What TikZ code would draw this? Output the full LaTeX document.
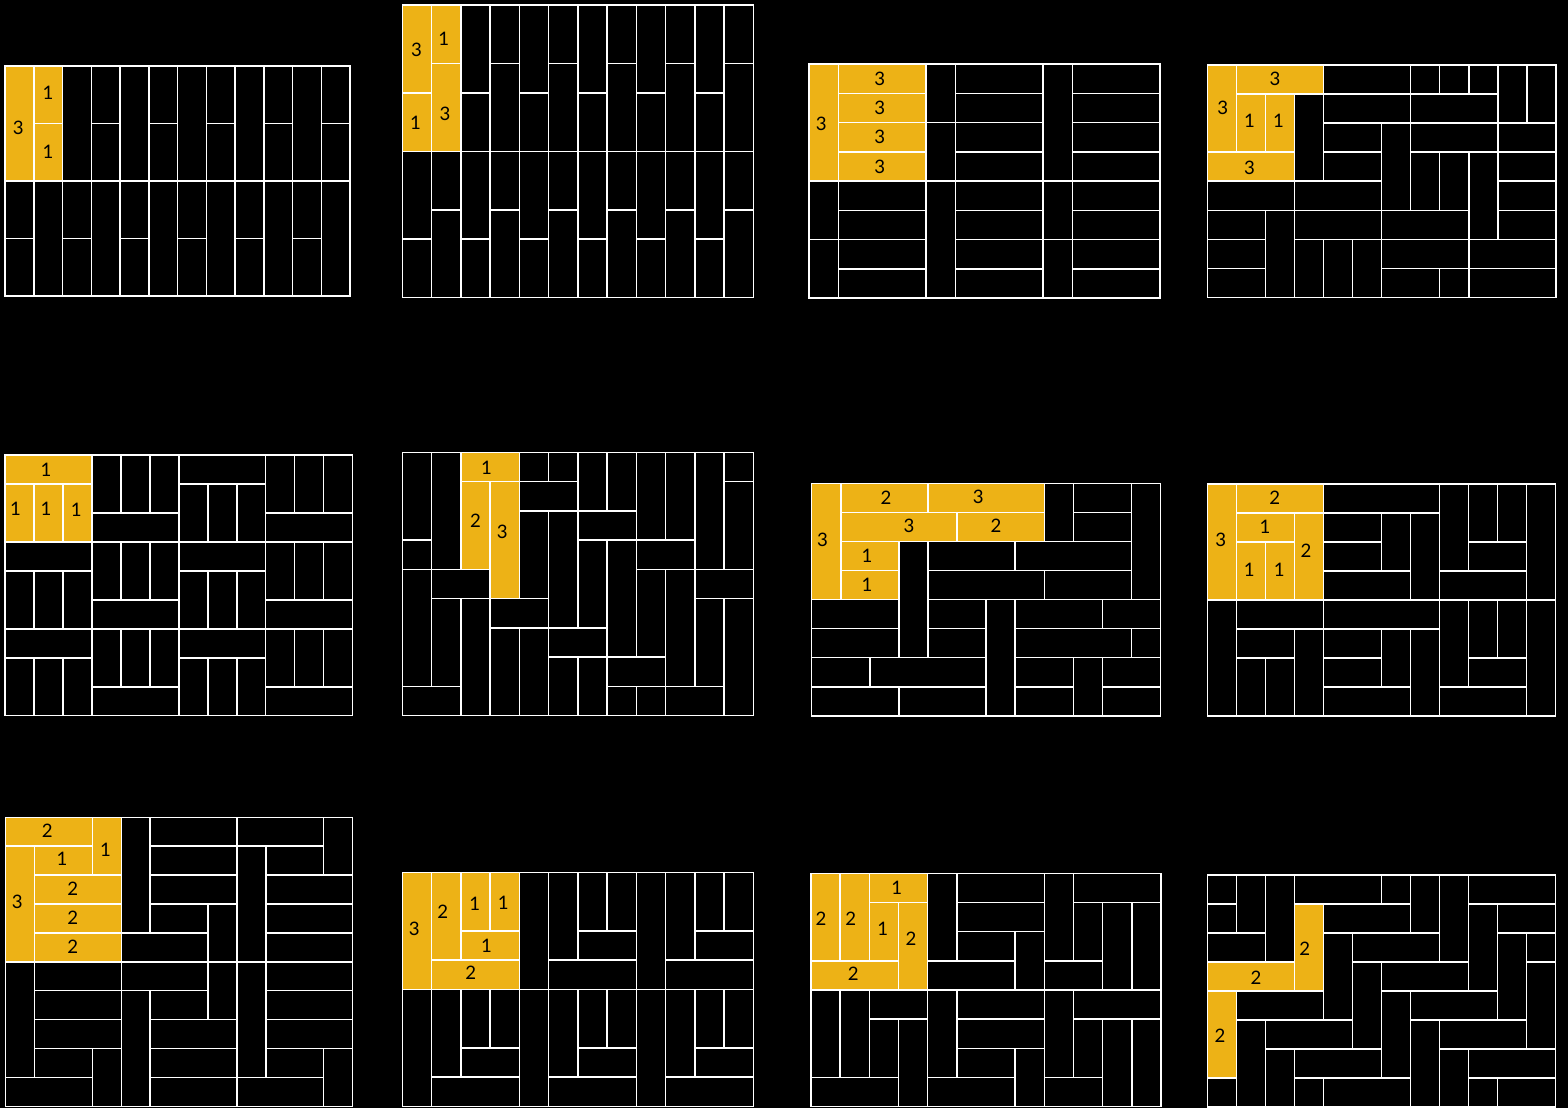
\documentclass[tikz,border=0pt]{standalone}
\usepackage{fontspec}
\newfontfamily\labfontfam{Lato}
\definecolor{tileyel}{RGB}{237,178,22}
\newcommand\labfnt{\labfontfam\fontsize{9.3pt}{10pt}\selectfont}
\tikzset{
  blk/.style={draw=white, line width=0.75pt, fill=black},
  yel/.style={draw=white, line width=0.75pt, fill=tileyel},
  lab/.style={inner sep=0pt, font=\labfnt, text=black},
  panel/.style n args={3}{shift={(#1,#2)}, x=#3pt, y=-#3pt}
}
\newcommand\bk[4]{\draw[blk] (#1,#2) rectangle (#3,#4);}
\newcommand\yw[4]{\draw[yel] (#1,#2) rectangle (#3,#4);}
\newcommand\tlab[4]{\node[lab] (#1) at (#2,#3) {#4};}
\begin{document}
\begin{tikzpicture}[x=0.5pt,y=-0.5pt]
\fill[black] (0,0) rectangle (1568,1108);
\useasboundingbox (0,0) rectangle (1568,1108);

% ---------- Panel 1
\begin{scope}[panel={5}{66}{14.375}]
\foreach \c in {2,4,...,10} {\bk{\c}{0}{\c+1}{4}}
\foreach \c in {3,5,...,11} {\bk{\c}{0}{\c+1}{2}\bk{\c}{2}{\c+1}{4}}
\foreach \c in {0,2,...,10} {\bk{\c}{4}{\c+1}{6}\bk{\c}{6}{\c+1}{8}}
\foreach \c in {1,3,...,11} {\bk{\c}{4}{\c+1}{8}}
\yw{0}{0}{1}{4}\yw{1}{0}{2}{2}\yw{1}{2}{2}{4}
\tlab{p1a}{0.46}{2.15}{3}\tlab{p1b}{1.5}{0.92}{1}\tlab{p1c}{1.5}{3}{1}
\end{scope}

% ---------- Panel 2
\begin{scope}[panel={402.3}{5}{14.625}]
\foreach \c in {2,4,...,10} {\bk{\c}{0}{\c+1}{3}\bk{\c}{3}{\c+1}{5}}
\foreach \c in {3,5,...,11} {\bk{\c}{0}{\c+1}{2}\bk{\c}{2}{\c+1}{5}}
\foreach \c in {0,2,...,10} {\bk{\c}{5}{\c+1}{8}\bk{\c}{8}{\c+1}{10}}
\foreach \c in {1,3,...,11} {\bk{\c}{5}{\c+1}{7}\bk{\c}{7}{\c+1}{10}}
\yw{0}{0}{1}{3}\yw{0}{3}{1}{5}\yw{1}{0}{2}{2}\yw{1}{2}{2}{5}
\tlab{p2a}{0.49}{1.52}{3}\tlab{p2b}{1.42}{1.15}{1}\tlab{p2c}{0.45}{4.02}{1}\tlab{p2d}{1.46}{3.73}{3}
\end{scope}

% ---------- Panel 3
\begin{scope}[panel={809}{64}{14.625}]
\bk{0}{4}{1}{6}\bk{0}{6}{1}{8}
\foreach \r in {4,...,7} {\bk{1}{\r}{4}{\r+1}}
\bk{4}{0}{5}{2}\bk{4}{2}{5}{4}\bk{4}{4}{5}{8}
\foreach \r in {0,...,7} {\bk{5}{\r}{8}{\r+1}\bk{9}{\r}{12}{\r+1}}
\bk{8}{0}{9}{4}\bk{8}{4}{9}{6}\bk{8}{6}{9}{8}
\yw{0}{0}{1}{4}
\foreach \r in {0,...,3} {\yw{1}{\r}{4}{\r+1}}
\tlab{p3a}{0.42}{2.03}{3}
\foreach \r in {0,...,3} {\tlab{p3l\r}{2.42}{\r+0.5}{3}}
\end{scope}

% ---------- Panel 4
\begin{scope}[panel={1207.3}{65}{14.525}]
\bk{3}{1}{4}{4}\bk{4}{0}{7}{1}\bk{7}{0}{8}{1}\bk{8}{0}{9}{1}\bk{9}{0}{10}{1}\bk{10}{0}{11}{2}\bk{11}{0}{12}{2}
\bk{4}{1}{7}{2}\bk{7}{1}{10}{2}
\bk{4}{2}{6}{3}\bk{6}{2}{7}{5}\bk{7}{2}{10}{3}\bk{10}{2}{12}{3}
\bk{4}{3}{6}{4}\bk{7}{3}{8}{5}\bk{8}{3}{9}{5}\bk{9}{3}{10}{6}\bk{10}{3}{12}{4}
\bk{0}{4}{3}{5}\bk{3}{4}{6}{5}\bk{10}{4}{12}{5}
\bk{0}{5}{2}{6}\bk{2}{5}{3}{8}\bk{3}{5}{6}{6}\bk{6}{5}{9}{6}\bk{10}{5}{12}{6}
\bk{0}{6}{2}{7}\bk{3}{6}{4}{8}\bk{4}{6}{5}{8}\bk{5}{6}{6}{8}\bk{6}{6}{9}{7}\bk{9}{6}{12}{7}
\bk{0}{7}{2}{8}\bk{6}{7}{8}{8}\bk{8}{7}{9}{8}\bk{9}{7}{12}{8}
\yw{0}{0}{1}{3}\yw{1}{0}{4}{1}\yw{1}{1}{2}{3}\yw{2}{1}{3}{3}\yw{0}{3}{3}{4}
\tlab{p4a}{0.53}{1.49}{3}\tlab{p4b}{2.33}{0.47}{3}\tlab{p4c}{1.45}{1.93}{1}\tlab{p4d}{2.45}{1.93}{1}\tlab{p4e}{1.45}{3.55}{3}
\end{scope}

% ---------- Panel 5
\begin{scope}[panel={5}{455}{14.485}]
\foreach \by in {0,3,6} {
  \foreach \bx in {0,6} {\bk{\bx}{\by}{\bx+3}{\by+1}\foreach \i in {0,1,2} {\bk{\bx+\i}{\by+1}{\bx+\i+1}{\by+3}}}
  \foreach \bx in {3,9} {\bk{\bx}{\by+2}{\bx+3}{\by+3}\foreach \i in {0,1,2} {\bk{\bx+\i}{\by}{\bx+\i+1}{\by+2}}}
}
\yw{0}{0}{3}{1}\yw{0}{1}{1}{3}\yw{1}{1}{2}{3}\yw{2}{1}{3}{3}
\tlab{p5a}{1.42}{0.52}{1}\tlab{p5b}{0.36}{1.87}{1}\tlab{p5c}{1.42}{1.87}{1}\tlab{p5d}{2.46}{1.9}{1}
\end{scope}

% ---------- Panel 6
\begin{scope}[panel={402.3}{452.3}{14.625}]
\bk{0}{0}{1}{3}\bk{0}{3}{1}{4}\bk{0}{4}{1}{8}\bk{0}{8}{2}{9}
\bk{1}{0}{2}{4}\bk{1}{4}{3}{5}\bk{1}{5}{2}{8}\bk{2}{5}{3}{9}
\bk{4}{0}{5}{1}\bk{5}{0}{6}{1}\bk{4}{1}{6}{2}\bk{4}{2}{5}{5}\bk{5}{2}{6}{6}
\bk{3}{5}{5}{6}\bk{3}{6}{4}{9}\bk{4}{6}{5}{9}
\bk{6}{0}{7}{2}\bk{7}{0}{8}{2}\bk{6}{2}{8}{3}\bk{6}{3}{7}{6}\bk{7}{3}{8}{7}
\bk{5}{6}{7}{7}\bk{5}{7}{6}{9}\bk{6}{7}{7}{9}
\bk{8}{0}{9}{3}\bk{9}{0}{10}{3}\bk{8}{3}{10}{4}\bk{8}{4}{9}{7}\bk{9}{4}{10}{8}
\bk{7}{7}{9}{8}\bk{7}{8}{8}{9}\bk{8}{8}{9}{9}
\bk{10}{0}{11}{4}\bk{11}{0}{12}{1}\bk{11}{1}{12}{4}\bk{10}{4}{12}{5}\bk{10}{5}{11}{8}\bk{11}{5}{12}{9}\bk{9}{8}{11}{9}
\yw{2}{0}{4}{1}\yw{2}{1}{3}{4}\yw{3}{1}{4}{5}
\tlab{p6a}{2.88}{0.52}{1}\tlab{p6b}{2.5}{2.35}{2}\tlab{p6c}{3.42}{2.73}{3}
\end{scope}

% ---------- Panel 7
\begin{scope}[panel={811.7}{483.3}{14.535}]
\bk{3}{2}{4}{6}\bk{8}{0}{9}{2}\bk{9}{0}{11}{1}\bk{9}{1}{11}{2}\bk{11}{0}{12}{4}
\bk{4}{2}{7}{3}\bk{7}{2}{11}{3}\bk{4}{3}{8}{4}\bk{8}{3}{11}{4}
\bk{0}{4}{3}{5}\bk{0}{5}{3}{6}\bk{4}{4}{6}{5}\bk{4}{5}{6}{6}\bk{6}{4}{7}{8}
\bk{7}{4}{10}{5}\bk{10}{4}{12}{5}\bk{7}{5}{11}{6}\bk{11}{5}{12}{6}
\bk{0}{6}{2}{7}\bk{2}{6}{6}{7}\bk{0}{7}{3}{8}\bk{3}{7}{6}{8}
\bk{7}{6}{9}{7}\bk{7}{7}{9}{8}\bk{9}{6}{10}{8}\bk{10}{6}{12}{7}\bk{10}{7}{12}{8}
\yw{0}{0}{1}{4}\yw{1}{0}{4}{1}\yw{4}{0}{8}{1}\yw{1}{1}{5}{2}\yw{5}{1}{8}{2}\yw{1}{2}{3}{3}\yw{1}{3}{3}{4}
\tlab{p7a}{0.37}{1.95}{3}\tlab{p7b}{2.56}{0.49}{2}\tlab{p7c}{5.73}{0.47}{3}\tlab{p7d}{3.35}{1.46}{3}\tlab{p7e}{6.34}{1.46}{2}\tlab{p7f}{1.9}{2.5}{1}\tlab{p7g}{1.9}{3.48}{1}
\end{scope}

% ---------- Panel 8
\begin{scope}[panel={1207.3}{484}{14.5}]
\bk{0}{4}{1}{8}\bk{1}{4}{4}{5}\bk{1}{5}{3}{6}\bk{1}{6}{2}{8}\bk{2}{6}{3}{8}\bk{3}{5}{4}{8}
\foreach \dy in {0,4} {\bk{4}{\dy}{8}{\dy+1}\bk{4}{\dy+1}{6}{\dy+2}\bk{4}{\dy+2}{6}{\dy+3}\bk{6}{\dy+1}{7}{\dy+3}\bk{4}{\dy+3}{7}{\dy+4}\bk{7}{\dy+1}{8}{\dy+4}\bk{8}{\dy}{9}{\dy+3}\bk{9}{\dy}{10}{\dy+2}\bk{10}{\dy}{11}{\dy+2}\bk{9}{\dy+2}{11}{\dy+3}\bk{8}{\dy+3}{11}{\dy+4}\bk{11}{\dy}{12}{\dy+4}}
\yw{0}{0}{1}{4}\yw{1}{0}{4}{1}\yw{1}{1}{3}{2}\yw{1}{2}{2}{4}\yw{2}{2}{3}{4}\yw{3}{1}{4}{4}
\tlab{p8a}{0.46}{1.93}{3}\tlab{p8b}{2.33}{0.49}{2}\tlab{p8c}{1.99}{1.47}{1}\tlab{p8d}{1.45}{2.97}{1}\tlab{p8e}{2.48}{2.95}{1}\tlab{p8f}{3.4}{2.31}{2}
\end{scope}

% ---------- Panel 9
\begin{scope}[panel={5.7}{817.3}{14.45}]
\bk{4}{0}{5}{4}\bk{5}{0}{8}{1}\bk{5}{1}{8}{2}\bk{5}{2}{8}{3}\bk{5}{3}{7}{4}\bk{7}{3}{8}{5}
\bk{4}{4}{7}{5}\bk{4}{5}{7}{6}\bk{7}{5}{8}{7}\bk{5}{6}{7}{7}\bk{4}{6}{5}{10}
\bk{5}{7}{8}{8}\bk{5}{8}{8}{9}\bk{5}{9}{8}{10}
\bk{8}{0}{11}{1}\bk{11}{0}{12}{2}\bk{8}{1}{9}{5}\bk{9}{1}{11}{2}
\foreach \r in {2,...,7} {\bk{9}{\r}{12}{\r+1}}
\bk{8}{5}{9}{9}\bk{9}{8}{11}{9}\bk{11}{8}{12}{10}\bk{8}{9}{11}{10}
\bk{0}{5}{1}{9}\bk{1}{5}{4}{6}\bk{1}{6}{4}{7}\bk{1}{7}{4}{8}\bk{1}{8}{3}{9}\bk{3}{8}{4}{10}\bk{0}{9}{3}{10}
\yw{0}{0}{3}{1}\yw{3}{0}{4}{2}\yw{0}{1}{1}{5}\yw{1}{1}{3}{2}\yw{1}{2}{4}{3}\yw{1}{3}{4}{4}\yw{1}{4}{4}{5}
\tlab{p9a}{1.44}{0.46}{2}\tlab{p9b}{3.45}{1.13}{1}\tlab{p9c}{1.95}{1.45}{1}\tlab{p9d}{0.4}{2.91}{3}
\tlab{p9e}{2.32}{2.48}{2}\tlab{p9f}{2.32}{3.49}{2}\tlab{p9g}{2.32}{4.49}{2}
\end{scope}

% ---------- Panel 10
\begin{scope}[panel={402.3}{872.3}{14.625}]
\foreach \by in {0,4} {\foreach \bx in {0,4,8} {%
  \bk{\bx}{\by}{\bx+1}{\by+4}\bk{\bx+1}{\by}{\bx+2}{\by+3}\bk{\bx+2}{\by}{\bx+3}{\by+2}%
  \bk{\bx+3}{\by}{\bx+4}{\by+2}\bk{\bx+2}{\by+2}{\bx+4}{\by+3}\bk{\bx+1}{\by+3}{\bx+4}{\by+4}}}
\yw{0}{0}{1}{4}\yw{1}{0}{2}{3}\yw{2}{0}{3}{2}\yw{3}{0}{4}{2}\yw{2}{2}{4}{3}\yw{1}{3}{4}{4}
\tlab{p10a}{0.41}{1.93}{3}\tlab{p10b}{1.38}{1.34}{2}\tlab{p10c}{2.48}{1.09}{1}\tlab{p10d}{3.45}{1.06}{1}\tlab{p10e}{2.88}{2.5}{1}\tlab{p10f}{2.34}{3.45}{2}
\end{scope}

% ---------- Panel 11
\begin{scope}[panel={811}{873.3}{14.585}]
\foreach \by in {0,4} {%
  \bk{0}{\by}{1}{\by+3}\bk{1}{\by}{2}{\by+3}\bk{2}{\by}{4}{\by+1}\bk{2}{\by+1}{3}{\by+3}\bk{3}{\by+1}{4}{\by+4}\bk{0}{\by+3}{3}{\by+4}%
  \bk{4}{\by}{5}{\by+3}\bk{5}{\by}{8}{\by+1}\bk{5}{\by+1}{8}{\by+2}\bk{5}{\by+2}{7}{\by+3}\bk{7}{\by+2}{8}{\by+4}\bk{4}{\by+3}{7}{\by+4}%
  \bk{8}{\by}{9}{\by+3}\bk{9}{\by}{12}{\by+1}\bk{9}{\by+1}{10}{\by+3}\bk{10}{\by+1}{11}{\by+4}\bk{11}{\by+1}{12}{\by+4}\bk{8}{\by+3}{10}{\by+4}}
\yw{0}{0}{1}{3}\yw{1}{0}{2}{3}\yw{2}{0}{4}{1}\yw{2}{1}{3}{3}\yw{3}{1}{4}{4}\yw{0}{3}{3}{4}
\tlab{p11a}{0.34}{1.57}{2}\tlab{p11b}{1.36}{1.57}{2}\tlab{p11c}{2.94}{0.51}{1}\tlab{p11d}{2.46}{1.89}{1}\tlab{p11e}{3.43}{2.25}{2}\tlab{p11f}{1.45}{3.43}{2}
\end{scope}

% ---------- Panel 12
\begin{scope}[panel={1207.3}{875}{14.5}]
\bk{0}{0}{1}{1}\bk{0}{1}{1}{2}\bk{0}{2}{2}{3}\bk{0}{7}{1}{8}\bk{1}{0}{2}{2}\bk{2}{0}{3}{3}
\bk{3}{0}{6}{1}\bk{6}{0}{7}{1}\bk{7}{0}{8}{2}\bk{8}{0}{9}{3}\bk{9}{0}{12}{1}
\bk{4}{1}{7}{2}\bk{4}{2}{5}{5}\bk{5}{2}{8}{3}\bk{5}{3}{6}{6}\bk{6}{3}{9}{4}
\bk{9}{1}{10}{4}\bk{10}{1}{12}{2}\bk{10}{2}{11}{5}\bk{11}{2}{12}{3}\bk{11}{3}{12}{6}
\bk{1}{4}{4}{5}\bk{1}{5}{2}{8}\bk{2}{5}{5}{6}\bk{2}{6}{3}{8}\bk{3}{6}{6}{7}\bk{3}{7}{4}{8}\bk{4}{7}{7}{8}
\bk{6}{4}{7}{7}\bk{7}{4}{10}{5}\bk{7}{5}{8}{8}\bk{8}{5}{11}{6}\bk{8}{6}{9}{8}\bk{9}{6}{12}{7}\bk{9}{7}{10}{8}\bk{10}{7}{12}{8}
\yw{3}{1}{4}{4}\yw{0}{3}{3}{4}\yw{0}{4}{1}{7}
\tlab{p12a}{3.36}{2.53}{2}\tlab{p12b}{1.68}{3.55}{2}\tlab{p12c}{0.44}{5.55}{2}
\end{scope}
\end{tikzpicture}
\end{document}
